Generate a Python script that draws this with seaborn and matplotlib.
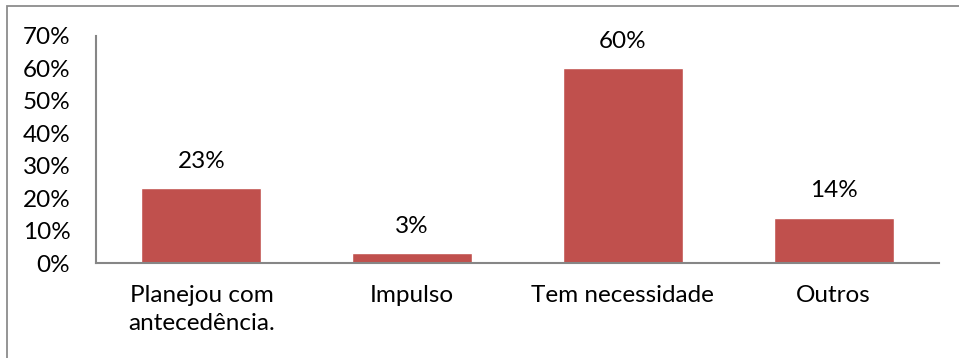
import matplotlib
matplotlib.use("Agg")
import matplotlib.pyplot as plt
import seaborn as sns
import pandas as pd
from matplotlib.patches import Rectangle
from matplotlib.ticker import FuncFormatter

categories = ["Planejou com\nantecedência.", "Impulso", "Tem necessidade", "Outros"]
values = [23, 3, 60, 14]
y_ticks = [0, 10, 20, 30, 40, 50, 60, 70]

sns.set_theme(style="white")
plt.rcParams["font.family"] = ["Lato", "DejaVu Sans"]

FS = 17.5

df = pd.DataFrame({"motivo": categories, "pct": values})

fig = plt.figure(figsize=(9.59, 3.58), dpi=100)
ax = fig.add_axes([96 / 959, 1 - 263 / 358, 843 / 959, 227 / 358])

sns.barplot(data=df, x="motivo", y="pct", color="#C0504D", saturation=1,
            width=0.57, ax=ax)

ax.set_xlim(-0.5, 3.5)
ax.set_ylim(0, 70)
ax.set_yticks(y_ticks)
ax.yaxis.set_major_formatter(FuncFormatter(lambda v, _: f"{v:.0f}%"))
ax.set_xlabel("")
ax.set_ylabel("")
ax.tick_params(axis="both", length=0, labelsize=FS, colors="black")
ax.tick_params(axis="y", pad=18.5)
ax.tick_params(axis="x", pad=16)
for lbl in ax.get_xticklabels():
    lbl.set_linespacing(1.4)

for s in ["top", "right"]:
    ax.spines[s].set_visible(False)
for s in ["left", "bottom"]:
    ax.spines[s].set_color("#868686")
    ax.spines[s].set_linewidth(1.5)

for i, v in enumerate(values):
    ax.annotate(f"{v}%", (i, v), xytext=(0, 12), textcoords="offset points",
                ha="center", va="bottom", fontsize=FS, color="black")

# outer frame of the chart area
fig.patches.append(Rectangle((7 / 959, -0.1), 1.2, 1 - 5.5 / 358 + 0.1,
                             transform=fig.transFigure, fill=False,
                             edgecolor="#8c8c8c", linewidth=1.3))

fig.savefig("out.png", dpi=100)
